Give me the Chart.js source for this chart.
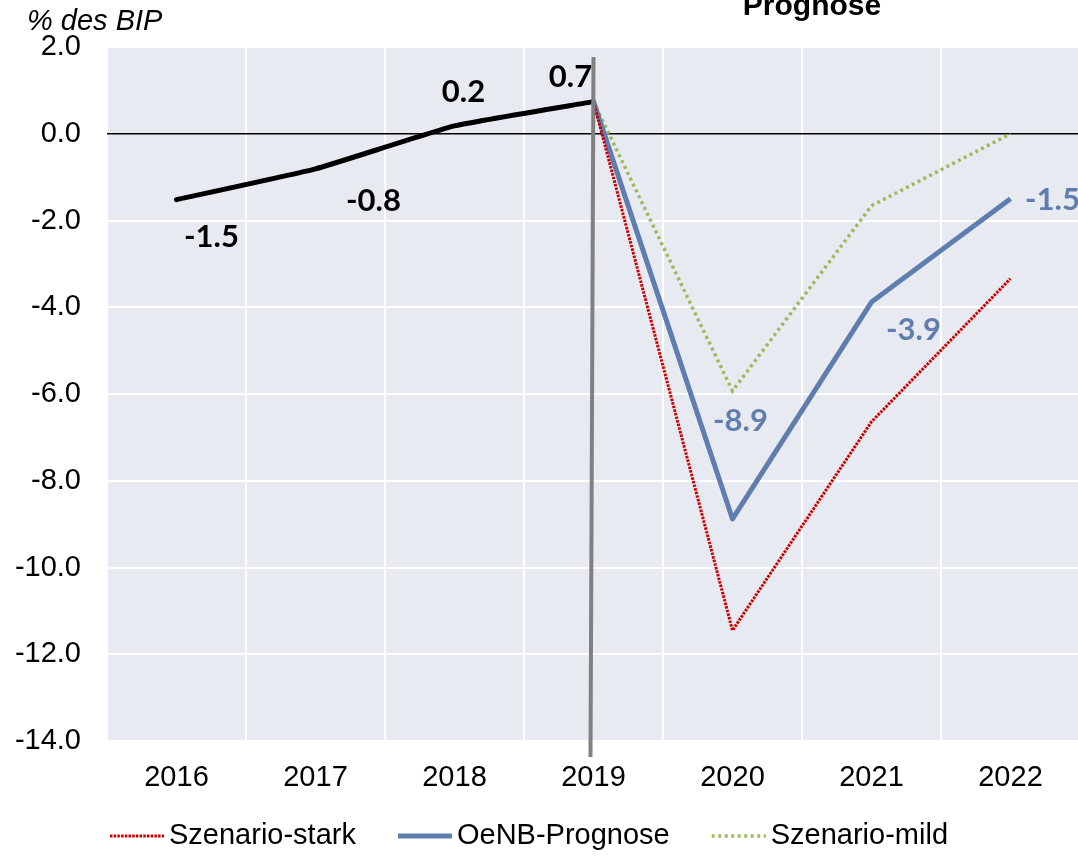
<!DOCTYPE html>
<html>
<head>
<meta charset="utf-8">
<script src="https://cdn.jsdelivr.net/npm/chart.js@4.4.1/dist/chart.umd.min.js"></script>
<style>
html, body { margin: 0; padding: 0; background: #fff; overflow: hidden; }
#wrap { width: 1080px; height: 857px; }
</style>
</head>
<body>
<div id="wrap"><canvas id="chart"></canvas></div>
<script>
// data
const years = ['2016', '2017', '2018', '2019', '2020', '2021', '2022'];
const actual = [-1.52, -0.81, 0.18, 0.74, null, null, null];
const oenbForecast = [null, null, null, 0.74, -8.88, -3.88, -1.50];
const scenarioStrong = [null, null, null, 0.74, -11.45, -6.64, -3.34];
const scenarioMild = [null, null, null, 0.74, -5.93, -1.66, 0.0];
const yMin = -14, yMax = 2, yStep = 2;
const forecastStart = '2019';

// which points get a value label, and where it sits relative to the point
const actualLabelIdx = [0, 1, 2, 3];
const actualLabelOffsets = [[35, 37], [58, 32], [9, -34], [-23, -25]];
const oenbLabelIdx = [4, 5, 6];
const oenbLabelOffsets = [[8, -98], [42, 28], [42, 1]];

const BLUE = '#607daf';
const RED = '#cc0000';
const GREEN = '#9bbb59';
const FONT = "'Liberation Sans', Arial, sans-serif";

const bgPlugin = {
    id: 'plotBg',
    beforeDraw(chart) {
        const { ctx, chartArea: a } = chart;
        ctx.save();
        ctx.fillStyle = '#e8eaf1';
        ctx.fillRect(a.left, a.top, a.right - a.left, a.bottom - a.top);
        ctx.restore();
    }
};

const overlayPlugin = {
    id: 'overlay',
    afterDatasetsDraw(chart) {
        const { ctx, chartArea: a } = chart;
        const x = chart.scales.x, y = chart.scales.y;

        // grey forecast divider
        const xd = x.getPixelForValue(years.indexOf(forecastStart));
        ctx.save();
        ctx.strokeStyle = '#808080';
        ctx.lineWidth = 4;
        ctx.beginPath();
        ctx.moveTo(xd, y.getPixelForValue(1.77));
        ctx.lineTo(xd - 3, a.bottom + 16);
        ctx.stroke();

        // value labels
        ctx.font = "bold 31px Lato, 'Open Sans', sans-serif";
        ctx.textAlign = 'center';
        ctx.textBaseline = 'middle';
        const drawLabels = (values, idx, offs, color) => {
            ctx.fillStyle = color;
            idx.forEach((i, k) => {
                const px = x.getPixelForValue(i) + offs[k][0];
                const py = y.getPixelForValue(values[i]) + offs[k][1];
                ctx.fillText(values[i].toFixed(1), px, py);
            });
        };
        drawLabels(actual, actualLabelIdx, actualLabelOffsets, '#000');
        drawLabels(oenbForecast, oenbLabelIdx, oenbLabelOffsets, BLUE);
        ctx.restore();
    },
    afterDraw(chart) {
        const { ctx } = chart;
        ctx.save();
        ctx.fillStyle = '#000';
        ctx.textBaseline = 'alphabetic';
        ctx.font = 'italic 29px ' + FONT;
        ctx.textAlign = 'left';
        ctx.fillText('% des BIP', 27, 30);
        ctx.font = 'bold 30px ' + FONT;
        ctx.textAlign = 'center';
        ctx.fillText('Prognose', 812, 15);

        // legend, drawn by hand so sample and text sit close together
        ctx.font = '29px ' + FONT;
        ctx.textAlign = 'left';
        ctx.textBaseline = 'middle';
        let lx = 110;
        const ly = 836;
        chart.data.datasets.filter(d => d.label).forEach(d => {
            ctx.strokeStyle = d.borderColor;
            ctx.lineWidth = d.borderWidth;
            ctx.setLineDash(d.borderDash || []);
            ctx.lineCap = 'butt';
            ctx.beginPath();
            ctx.moveTo(lx, ly);
            ctx.lineTo(lx + 54, ly);
            ctx.stroke();
            ctx.setLineDash([]);
            ctx.fillText(d.label, lx + 59, ly);
            lx += 59 + ctx.measureText(d.label).width + 42;
        });
        ctx.restore();
    }
};

function initChart() {
    const ctx = document.getElementById('chart').getContext('2d');
    new Chart(ctx, {
        type: 'line',
        data: {
            labels: years,
            datasets: [
                { label: 'Szenario-stark', data: scenarioStrong, borderColor: RED, borderWidth: 3, borderDash: [2.5, 1.2], pointRadius: 0, fill: false },
                { label: 'OeNB-Prognose', data: oenbForecast, borderColor: BLUE, borderWidth: 5, pointRadius: 0, fill: false, borderJoinStyle: 'round' },
                { label: 'Szenario-mild', data: scenarioMild, borderColor: GREEN, borderWidth: 3.5, borderDash: [3, 3.5], pointRadius: 0, fill: false },
                { label: '', data: actual, borderColor: '#000', borderWidth: 5, pointRadius: 0, fill: false, tension: 0.12, borderJoinStyle: 'round', borderCapStyle: 'round' }
            ]
        },
        options: {
            responsive: true,
            maintainAspectRatio: false,
            animation: false,
            spanGaps: false,
            layout: { padding: { top: 47, left: 13, right: 0, bottom: 0 } },
            scales: {
                x: {
                    offset: true,
                    border: { display: false },
                    grid: { offset: true, color: '#ffffff', lineWidth: 2, drawTicks: false },
                    ticks: { color: '#000', font: { family: FONT, size: 29 }, padding: 20, maxRotation: 0 },
                    afterFit: s => { s.height = 116; }
                },
                y: {
                    min: yMin,
                    max: yMax,
                    border: { display: false },
                    grid: {
                        drawTicks: false,
                        color: c => c.tick && c.tick.value === 0 ? '#000000' : '#ffffff',
                        lineWidth: c => c.tick && c.tick.value === 0 ? 1.5 : 2
                    },
                    ticks: {
                        stepSize: yStep,
                        color: '#000',
                        padding: 26,
                        font: { family: FONT, size: 29 },
                        callback: v => Number(v).toFixed(1)
                    },
                    afterFit: s => { s.width = 94; }
                }
            },
            plugins: {
                legend: { display: false },
                tooltip: { enabled: false }
            }
        },
        plugins: [bgPlugin, overlayPlugin]
    });
}

document.addEventListener('DOMContentLoaded', initChart);
</script>
</body>
</html>
